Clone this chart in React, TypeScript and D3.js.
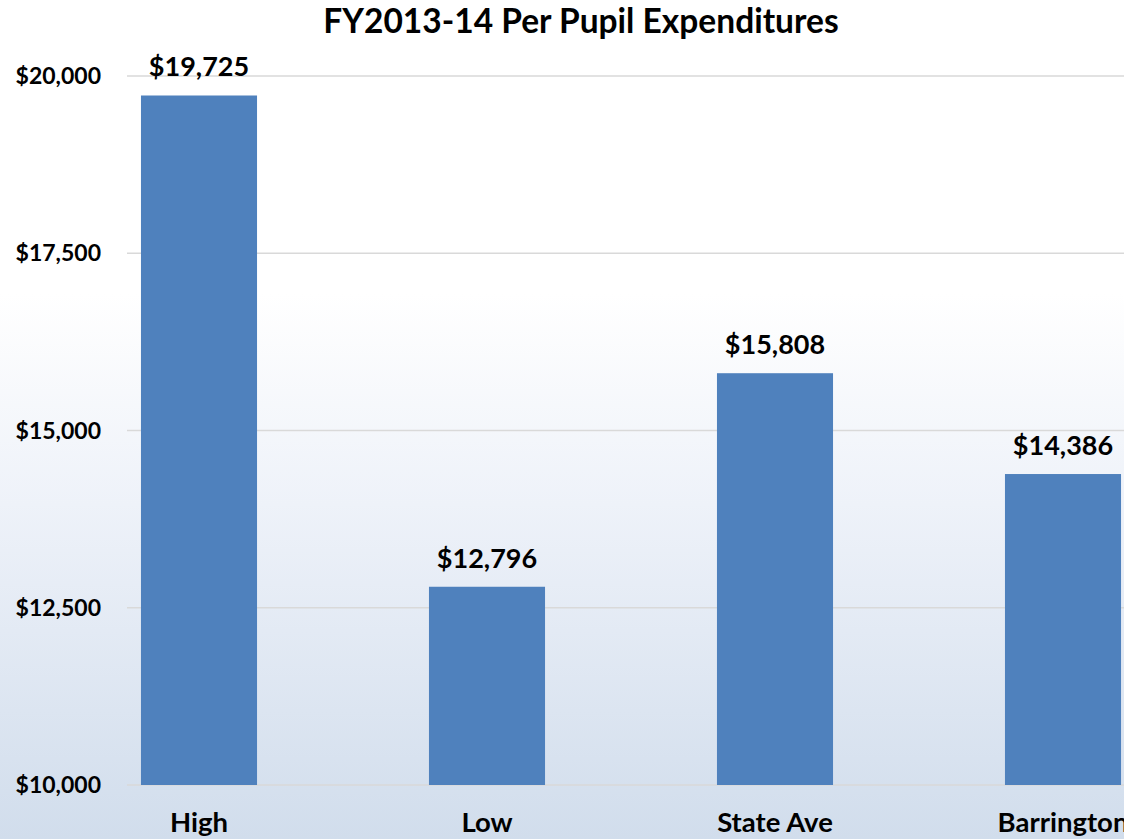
import React from "react";
import * as d3 from "d3";

const categories = ["High", "Low", "State Ave", "Barrington"];
const values = [19725, 12796, 15808, 14386];
const yTicks = [10000, 12500, 15000, 17500, 20000];
const title = "FY2013-14 Per Pupil Expenditures";

const W = 1124;
const H = 839;
const FONT = "Lato, 'Open Sans', sans-serif";

export default function App() {
  const x = d3
    .scaleBand<string>()
    .domain(categories)
    .range([55, 55 + 288 * categories.length])
    .paddingInner(0.597)
    .paddingOuter(0.2985);
  const y = d3.scaleLinear().domain([10000, 20000]).range([785, 76]);
  const fmt = (v: number) => "$" + d3.format(",")(v);

  return (
    <div style={{ position: "fixed", left: 0, top: 0 }}>
      <svg width={W} height={H} style={{ display: "block" }}>
        <defs>
          <linearGradient id="bg" x1="0" y1="0" x2="0" y2="1">
            <stop offset="0" stopColor="#ffffff" />
            <stop offset="0.35" stopColor="#ffffff" />
            <stop offset="0.6" stopColor="#eef2f9" />
            <stop offset="1" stopColor="#d1ddec" />
          </linearGradient>
        </defs>
        <rect x={0} y={0} width={W} height={H} fill="url(#bg)" />
        <text
          x={581}
          y={33}
          textAnchor="middle"
          fontFamily={FONT}
          fontWeight="bold"
          fontSize={33.5}
          fill="#000"
        >
          {title}
        </text>
        {yTicks.map((t) => (
          <g key={t}>
            <line x1={127} x2={W} y1={y(t)} y2={y(t)} stroke="#d9d9d9" strokeWidth={1.5} />
            <text
              x={101}
              y={y(t) + 8}
              textAnchor="end"
              fontFamily={FONT}
              fontWeight="bold"
              fontSize={23}
              fill="#000"
            >
              {fmt(t)}
            </text>
          </g>
        ))}
        {categories.map((c, i) => (
          <g key={c}>
            <rect
              x={x(c)!}
              y={y(values[i])}
              width={x.bandwidth()}
              height={y(10000) - y(values[i])}
              fill="#4f81bd"
            />
            <text
              x={x(c)! + x.bandwidth() / 2}
              y={y(values[i]) - 19}
              textAnchor="middle"
              fontFamily={FONT}
              fontWeight="bold"
              fontSize={27}
              fill="#000"
            >
              {fmt(values[i])}
            </text>
            <text
              x={x(c)! + x.bandwidth() / 2}
              y={832}
              textAnchor="middle"
              fontFamily={FONT}
              fontWeight="bold"
              fontSize={27.5}
              fill="#000"
            >
              {c}
            </text>
          </g>
        ))}
      </svg>
    </div>
  );
}
